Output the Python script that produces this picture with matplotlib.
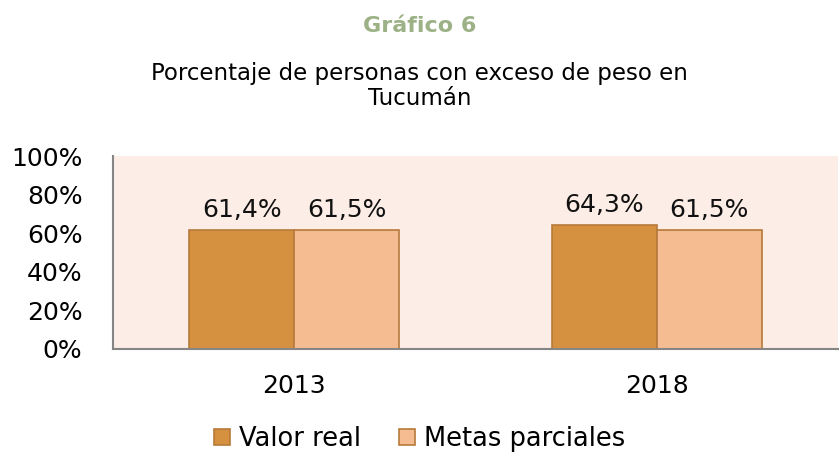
import matplotlib
matplotlib.use("Agg")
import matplotlib.pyplot as plt
import numpy as np

categories = ["2013", "2018"]
valor_real = [61.4, 64.3]
metas_parciales = [61.5, 61.5]
series_names = ["Valor real", "Metas parciales"]
ytick_labels = ["0%", "20%", "40%", "60%", "80%", "100%"]

plt.rcParams['font.family'] = ['DejaVu Sans']

fig = plt.figure(figsize=(8.39, 4.54), dpi=100)
ax = fig.add_axes([113/839, 1 - 349/454, (838-113)/839, (349-156)/454])
ax.set_facecolor("#FCEDE6")

x = np.arange(len(categories))
w = 0.29
c1, c2 = "#D69140", "#F5BB91"
edge = "#B77A3A"
b1 = ax.bar(x - w/2, valor_real, w, color=c1, edgecolor=edge, linewidth=1.2, label=series_names[0])
b2 = ax.bar(x + w/2, metas_parciales, w, color=c2, edgecolor=edge, linewidth=1.2, label=series_names[1])

for bars, vals in ((b1, valor_real), (b2, metas_parciales)):
    for rect, v in zip(bars, vals):
        ax.annotate(f"{v:.1f}%".replace(".", ","), (rect.get_x() + rect.get_width()/2, v),
                    xytext=(0, 6), textcoords="offset points", ha="center", va="bottom",
                    fontsize=18, color="#111111")

ax.set_xlim(-0.5, 1.5)
ax.set_ylim(0, 100)
ax.set_yticks([0, 20, 40, 60, 80, 100])
ax.set_yticklabels(ytick_labels, fontsize=18)
ax.set_xticks(x)
ax.set_xticklabels(categories, fontsize=18)
ax.tick_params(axis="both", length=0)
ax.tick_params(axis="x", pad=18)
ax.tick_params(axis="y", pad=22)
for s in ("top", "right"):
    ax.spines[s].set_visible(False)
for s in ("left", "bottom"):
    ax.spines[s].set_color("#868686")
    ax.spines[s].set_linewidth(1.5)

fig.text(0.5, 1 - 26/454, "Gráfico 6", ha="center", va="center", fontsize=16,
         fontweight="bold", color="#9CB286")
fig.text(0.5, 1 - 86/454, "Porcentaje de personas con exceso de peso en\nTucumán",
         ha="center", va="center", fontsize=16.5, linespacing=1.15)

leg = fig.legend(handles=[b1, b2], loc="center", bbox_to_anchor=(0.5, 1 - 439/454),
                 ncol=2, frameon=False, fontsize=18.5, handlelength=0.6, handleheight=0.6,
                 handletextpad=0.35, columnspacing=1.5, borderaxespad=0, borderpad=0)

fig.savefig("out.png", dpi=100)
